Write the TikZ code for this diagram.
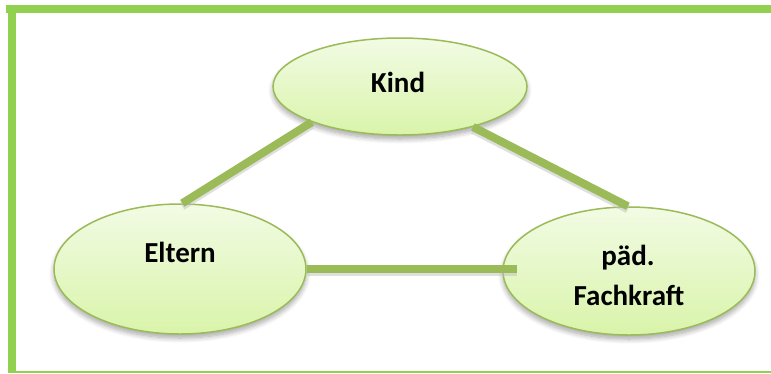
\documentclass[tikz,border=0pt]{standalone}
\usepackage{fontspec}
\setmainfont{Carlito}
\usetikzlibrary{shapes.geometric,shadows.blur}
\definecolor{framegreen}{HTML}{92D050}
\definecolor{linegreen}{HTML}{9BBB59}
\definecolor{filltop}{HTML}{F2FBE4}
\definecolor{fillbot}{HTML}{D9F4AA}
\tikzset{
  bubble/.style={ellipse, draw=linegreen, line width=1.5pt, inner sep=0pt,
    top color=filltop, bottom color=fillbot,
    blur shadow={shadow xshift=0pt, shadow yshift=-4pt, shadow blur steps=8, shadow opacity=35, shadow blur radius=5pt}},
  lbl/.style={font=\bfseries\fontsize{29}{40}\selectfont, anchor=base, inner sep=0pt, align=center},
  link/.style={draw=linegreen, line width=8pt},
  linkshadow/.style={draw=black!25, line width=8pt, opacity=0.5},
}
\begin{document}
\begin{tikzpicture}[x=1pt,y=-1pt]
\useasboundingbox (0,0) rectangle (771,373);
% frame
\fill[framegreen] (6,5) rectangle (771,13);
\fill[framegreen] (8,5) rectangle (16,371);
\fill[framegreen] (8,370.5) rectangle (771,373);
% ellipses
\node[bubble, minimum width=254pt, minimum height=97pt] (kind) at (400,86.5) {};
\node[bubble, minimum width=252pt, minimum height=130pt] (eltern) at (180,269) {};
\node[bubble, minimum width=252pt, minimum height=128pt] (fach) at (629,271) {};
\coordinate (fachin) at ([xshift=15pt]eltern.east -| fach.west);
% connector shadows
\draw[linkshadow, transform canvas={yshift=-3pt}] (kind.202) -- (eltern.88);
\draw[linkshadow, transform canvas={yshift=-3pt}] (kind.-29) -- (fach.91);
\draw[linkshadow, transform canvas={yshift=-3pt}] (eltern.east) -- (fachin);
% connectors
\draw[link] (kind.202) -- (eltern.88);
\draw[link] (kind.-29) -- (fach.91);
\draw[link] (eltern.east) -- (fachin);
% labels
\node[lbl] (kindtxt) at (398,92) {Kind};
\node[lbl] (elterntxt) at (180,262) {Eltern};
\node[lbl] (fachtxt1) at (628,265) {päd.};
\node[lbl] (fachtxt2) at (629,305) {Fachkraft};
\end{tikzpicture}
\end{document}
